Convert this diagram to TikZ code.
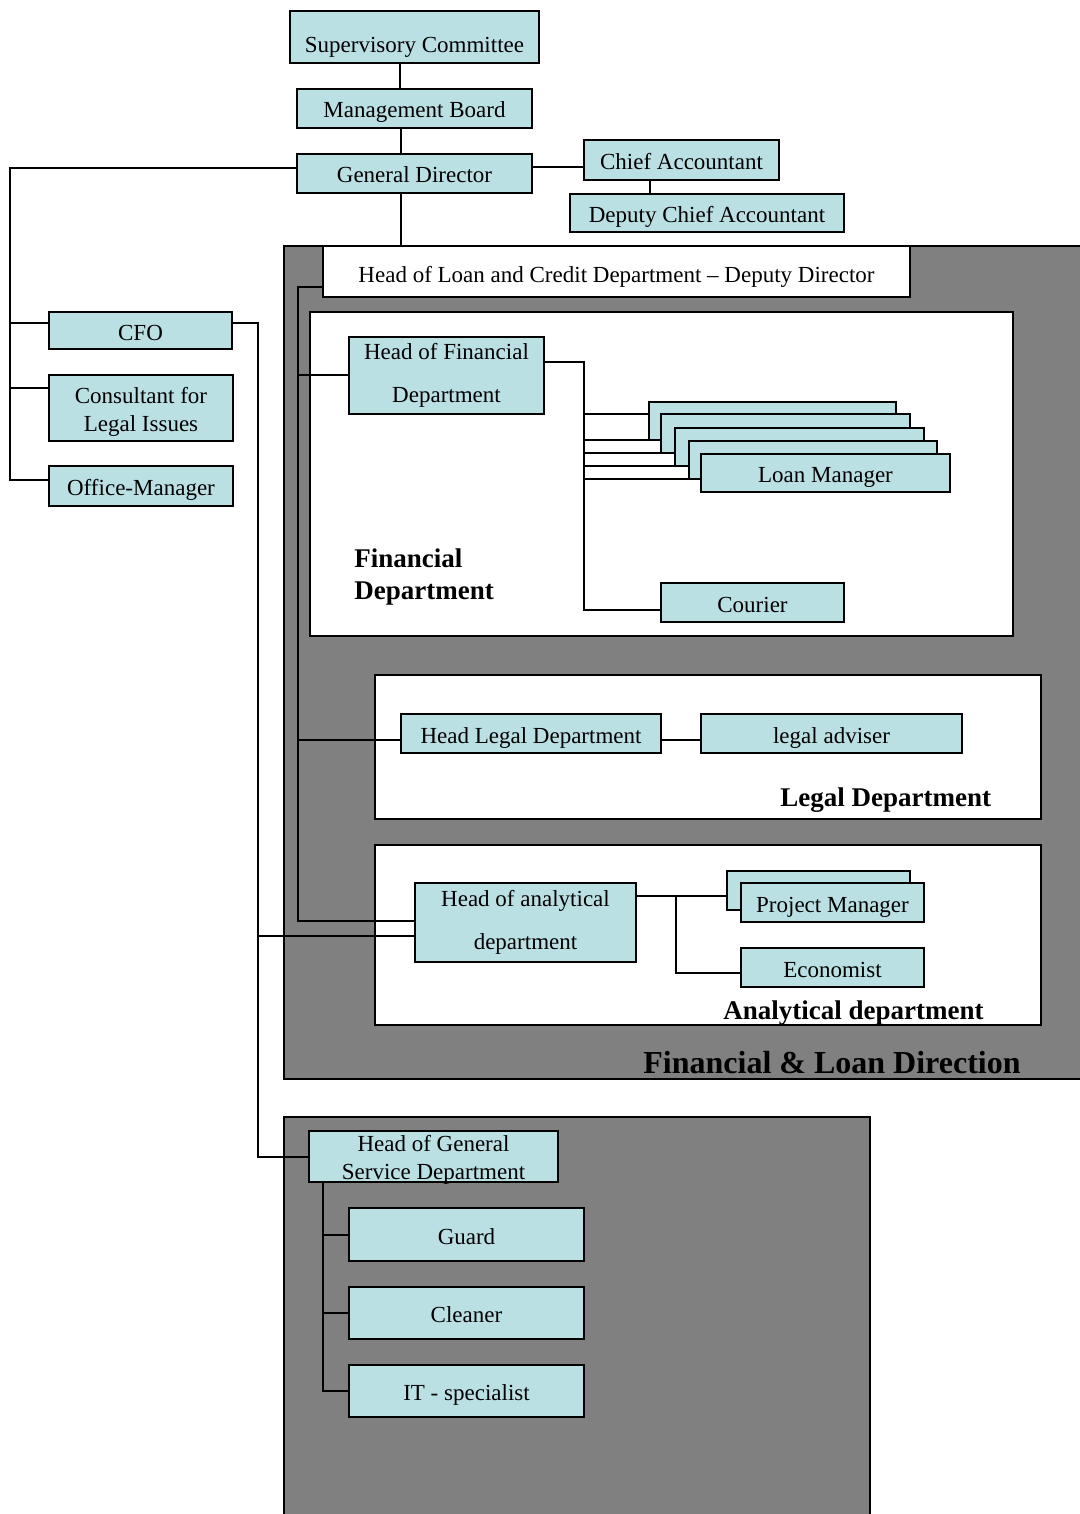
\documentclass[tikz,border=0pt]{standalone}
\usepackage{fontspec}
\setmainfont{Liberation Serif}
\definecolor{boxfill}{HTML}{BBE0E3}
\definecolor{dirfill}{HTML}{808080}
\tikzset{
  orgbox/.style={draw=black, line width=1pt, fill=boxfill, inner sep=0pt, align=center,
    font=\fontsize{11.5pt}{13.8pt}\selectfont},
  oneline/.style={text height=9.5pt, text depth=0pt},
  twoline/.style={text height=23.5pt, text depth=0.5pt},
  area/.style={draw=black, line width=1pt, fill=dirfill},
  deptarea/.style={draw=black, line width=1pt, fill=white},
  conn/.style={draw=black, line width=1pt},
  deptlabel/.style={font=\fontsize{13.5pt}{16pt}\selectfont\bfseries, inner sep=0pt, align=left},
  dirlabel/.style={font=\fontsize{16pt}{19pt}\selectfont\bfseries, inner sep=0pt},
}
\newcommand\orgnode[6][]{\node[orgbox,minimum width={(#4-#2)*0.5pt},minimum height={(#5-#3)*0.5pt},#1] (#6) at ({(#2+#4)/2},{(#3+#5)/2})}
\begin{document}
\begin{tikzpicture}[x=0.5pt,y=-0.5pt]
\useasboundingbox (0,0) rectangle (1080,1514);
\clip (0,0) rectangle (1080,1514);
\fill[white] (0,0) rectangle (1080,1514);
% areas
\path[area] (284,246) rectangle (1095,1079);
\path[area] (284,1117) rectangle (870,1530);
\path[deptarea] (310,312) rectangle (1013,636);
\path[deptarea] (375,675) rectangle (1041,819);
\path[deptarea] (375,845) rectangle (1041,1025);
% labels
\node[deptlabel, anchor=north west] (finlab) at (354,548) {Financial\\Department};
\node[deptlabel, anchor=base west] (leglab) at (780,806) {Legal Department};
\node[deptlabel, anchor=base west] (analab) at (723,1019) {Analytical department};
\node[dirlabel, anchor=base west] (dirlab) at (643,1073) {Financial \& Loan Direction};
% top
\orgnode[text height=16pt, text depth=0pt]{290}{11}{539}{63}{sc} {Supervisory Committee};
\orgnode[oneline]{297}{89}{532}{128}{mb} {Management Board};
\orgnode[oneline]{297}{154}{532}{193}{gd} {General Director};
\orgnode[oneline]{584}{140}{779}{180}{ca} {Chief Accountant};
\orgnode[oneline]{570}{194}{844}{232}{dca} {Deputy Chief Accountant};
\orgnode[fill=white, text height=10.5pt, text depth=0pt]{323}{246}{910}{297}{hl} {Head of Loan and Credit Department \textendash\ Deputy Director};
% left column
\orgnode[oneline]{49}{312}{232}{349}{cfo} {CFO};
\orgnode[twoline]{49}{375}{233}{441}{cons} {Consultant for\\Legal Issues};
\orgnode[oneline]{49}{466}{233}{506}{om} {Office-Manager};
% financial department
\orgnode{349}{337}{544}{414}{hf} {Head of Financial\\[8pt]Department};
\orgnode{649}{402}{896}{440}{lma} {};
\orgnode{661}{414}{910}{453}{lmb} {};
\orgnode{675}{428}{924}{466}{lmc} {};
\orgnode{689}{441}{937}{479}{lmd} {};
\orgnode[oneline]{701}{454}{950}{492}{lme} {Loan Manager};
\orgnode[oneline]{661}{583}{844}{622}{cou} {Courier};
% legal department
\orgnode[oneline]{401}{714}{661}{753}{hld} {Head Legal Department};
\orgnode[oneline]{701}{714}{962}{753}{la} {legal adviser};
% analytical department
\orgnode{415}{883}{636}{962}{ha} {Head of analytical\\[8pt]department};
\orgnode{727}{871}{910}{910}{pmb} {};
\orgnode[oneline]{741}{883}{924}{922}{pm} {Project Manager};
\orgnode[oneline]{741}{948}{924}{987}{eco} {Economist};
% general service
\orgnode[twoline]{309}{1131}{558}{1182}{hgs} {Head of General\\Service Department};
\orgnode[oneline]{349}{1208}{584}{1261}{gu} {Guard};
\orgnode[oneline]{349}{1287}{584}{1339}{cl} {Cleaner};
\orgnode[oneline]{349}{1365}{584}{1417}{it} {IT - specialist};
% connectors
\draw[conn] (sc.south -| 400,0) -- (mb.north -| 400,0);
\draw[conn] (mb.south -| 401,0) -- (gd.north -| 401,0);
\draw[conn] (gd.east |- 0,167) -- (ca.west |- 0,167);
\draw[conn] (ca.south -| 650,0) -- (dca.north -| 650,0);
\draw[conn] (gd.south -| 401,0) -- (hl.north -| 401,0);
\draw[conn] (gd.west |- 0,168) -| (10,480) -- (om.west |- 0,480);
\draw[conn] (10,323) -- (cfo.west |- 0,323);
\draw[conn] (10,388) -- (cons.west |- 0,388);
\draw[conn] (cfo.east |- 0,323) -| (258,1157) -- (hgs.west |- 0,1157);
\draw[conn] (258,936) -- (ha.west |- 0,936);
\draw[conn] (hl.west |- 0,287) -| (298,921) -- (ha.west |- 0,921);
\draw[conn] (298,375) -- (hf.west |- 0,375);
\draw[conn] (298,740) -- (hld.west |- 0,740);
\draw[conn] (hld.east |- 0,740) -- (la.west |- 0,740);
\draw[conn] (hf.east |- 0,362) -| (584,610) -- (cou.west |- 0,610);
\draw[conn] (584,414) -- (lma.west |- 0,414);
\draw[conn] (584,440) -- (lmb.west |- 0,440);
\draw[conn] (584,453) -- (lmc.west |- 0,453);
\draw[conn] (584,466) -- (lmd.west |- 0,466);
\draw[conn] (584,479) -- (lme.west |- 0,479);
\draw[conn] (ha.east |- 0,896) -- (pmb.west |- 0,896);
\draw[conn] (676,896) |- (eco.west |- 0,973);
\draw[conn] (hgs.south -| 323,0) |- (it.west |- 0,1391);
\draw[conn] (323,1235) -- (gu.west |- 0,1235);
\draw[conn] (323,1313) -- (cl.west |- 0,1313);
\end{tikzpicture}
\end{document}
